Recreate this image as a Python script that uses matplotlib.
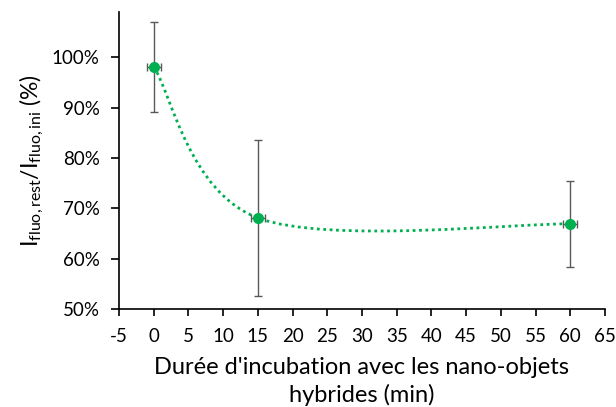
import numpy as np
import matplotlib.pyplot as plt
from matplotlib.path import Path
from matplotlib.patches import PathPatch
from matplotlib.ticker import PercentFormatter, MultipleLocator

plt.rcParams["font.family"] = ["Lato", "DejaVu Sans"]
plt.rcParams["mathtext.fontset"] = "custom"
plt.rcParams["mathtext.rm"] = "Lato"
plt.rcParams["mathtext.it"] = "Lato"
plt.rcParams["axes.unicode_minus"] = False

time_min = [0, 15, 60]
ratio = [0.981, 0.681, 0.669]
ratio_err = [0.090, 0.155, 0.085]
time_err = [1, 1, 1]

GREEN = "#00B050"
GREY = "#595959"


def smooth_path(xs, ys, k=6.0):
    # Excel-style smoothed line: cubic Bezier through every point
    pts = list(zip(xs, ys))
    ext = [pts[0]] + pts + [pts[-1]]
    verts = [pts[0]]
    codes = [Path.MOVETO]
    for i in range(1, len(ext) - 2):
        p0, p1, p2, p3 = ext[i - 1], ext[i], ext[i + 1], ext[i + 2]
        c1 = (p1[0] + (p2[0] - p0[0]) / k, p1[1] + (p2[1] - p0[1]) / k)
        c2 = (p2[0] - (p3[0] - p1[0]) / k, p2[1] - (p3[1] - p1[1]) / k)
        verts += [c1, c2, p2]
        codes += [Path.CURVE4] * 3
    return Path(verts, codes)


fig = plt.figure(figsize=(6.16, 4.07), dpi=100)
ax = fig.add_axes([119 / 616, 98 / 407, 486 / 616, 297 / 407])

ax.add_patch(PathPatch(smooth_path(time_min, ratio), fill=False,
                       edgecolor=GREEN, linewidth=2.0,
                       linestyle=(0, (1, 1.3)), zorder=2))
ax.errorbar(time_min, ratio, yerr=ratio_err, xerr=time_err, fmt="none",
            ecolor=GREY, elinewidth=1, capsize=3, capthick=1, zorder=3)
ax.plot(time_min, ratio, "o", color=GREEN, markersize=7, zorder=4)

ax.set_xlim(-5, 65)
ax.set_ylim(0.5, 1.09)
ax.xaxis.set_major_locator(MultipleLocator(5))
ax.yaxis.set_major_locator(MultipleLocator(0.1))
ax.yaxis.set_major_formatter(PercentFormatter(1.0, decimals=0))

for side in ["top", "right"]:
    ax.spines[side].set_visible(False)
for side in ["left", "bottom"]:
    ax.spines[side].set_linewidth(1.2)
ax.tick_params(direction="out", width=1.2, labelsize=13.5, colors="black")
ax.tick_params(axis="x", length=5, pad=9)
ax.tick_params(axis="y", length=6, pad=8)

ax.set_xlabel("Durée d'incubation avec les nano-objets\nhybrides (min)",
              fontsize=17, linespacing=1.35, labelpad=8)
ax.set_ylabel(r"$\mathregular{I_{fluo,rest}/I_{fluo,ini}}$ (%)", fontsize=16.5,
              labelpad=4)

fig.savefig("out.png", dpi=100)
